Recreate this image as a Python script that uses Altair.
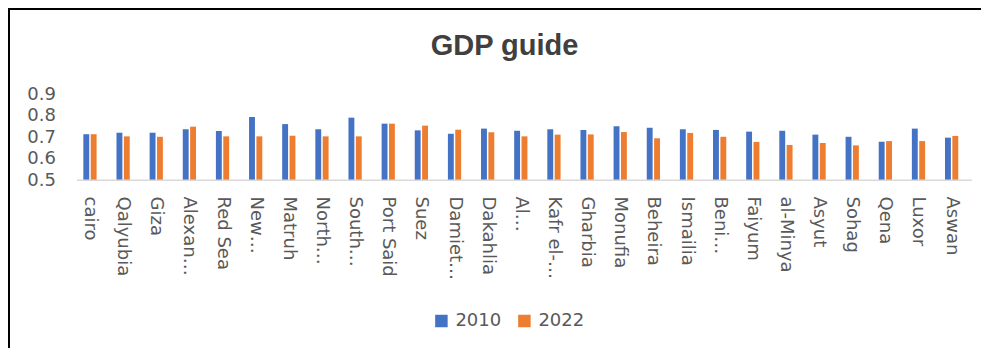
import altair as alt
import pandas as pd

regions = ["cairo", "Qalyubia", "Giza", "Alexan…", "Red Sea", "New…", "Matruh", "North…",
           "South…", "Port Said", "Suez", "Damiet…", "Dakahlia", "Al…", "Kafr el-…", "Gharbia",
           "Monufia", "Beheira", "Ismailia", "Beni…", "Faiyum", "al-Minya", "Asyut", "Sohag",
           "Qena", "Luxor", "Aswan"]
v2010 = [0.713, 0.720, 0.720, 0.736, 0.728, 0.793, 0.760, 0.736, 0.790, 0.762, 0.731, 0.715,
         0.739, 0.729, 0.736, 0.733, 0.750, 0.743, 0.736, 0.733, 0.725, 0.729, 0.711, 0.701,
         0.678, 0.739, 0.697]
v2022 = [0.713, 0.703, 0.701, 0.748, 0.703, 0.703, 0.706, 0.703, 0.703, 0.762, 0.753, 0.734,
         0.722, 0.703, 0.711, 0.712, 0.723, 0.694, 0.719, 0.701, 0.677, 0.663, 0.672, 0.661,
         0.681, 0.681, 0.705]
years = ["2010", "2022"]
colors = ["#4472C4", "#ED7D31"]
y_ticks = [0.5, 0.6, 0.7, 0.8, 0.9]
title_text = "GDP guide"

rows = []
for r, a, b in zip(regions, v2010, v2022):
    rows.append({"region": r, "year": years[0], "value": a})
    rows.append({"region": r, "year": years[1], "value": b})
df = pd.DataFrame(rows)

W, H = 894.8, 86
PL, PT, PR, PB = 65.4, 86, 12.8, 168
TEXT = "#595959"
FONT = "DejaVu Sans"

bars = alt.Chart(df).mark_bar().encode(
    x=alt.X("region:N", sort=regions, title=None,
            scale=alt.Scale(paddingInner=0.6, paddingOuter=0.3),
            axis=alt.Axis(labelAngle=90, labelFontSize=18, labelFont=FONT, labelColor=TEXT,
                          labelPadding=16, ticks=False, domain=False, grid=False,
                          labelLimit=200)),
    xOffset=alt.XOffset("year:N", scale=alt.Scale(paddingInner=0.2)),
    y=alt.Y("value:Q", title=None,
            scale=alt.Scale(domain=[0.5, 0.9], nice=False, zero=False),
            axis=alt.Axis(values=y_ticks, format=".1f", labelFontSize=18, labelFont=FONT,
                          labelColor=TEXT, labelPadding=18, ticks=False, domain=False,
                          grid=False)),
    y2=alt.datum(0.5),
    color=alt.Color("year:N", scale=alt.Scale(domain=years, range=colors),
                    legend=alt.Legend(title=None, orient="none", direction="horizontal",
                                      legendX=359, legendY=218, symbolType="square",
                                      symbolSize=156, symbolStrokeWidth=0,
                                      labelFontSize=18, labelFont=FONT, labelColor=TEXT,
                                      labelOffset=5, columnPadding=14, padding=0)),
)

one = pd.DataFrame({"k": [0]})

baseline = alt.Chart(one).mark_rule(color="#D9D9D9", strokeWidth=1.6).encode(
    x=alt.value(3.6), x2=alt.value(898.6), y=alt.value(H + 0.2))

title = alt.Chart(one).mark_text(text=title_text, font="Liberation Sans", fontWeight="bold",
                                 fontSize=29, color="#404040", align="center",
                                 baseline="alphabetic").encode(
    x=alt.value(431.1), y=alt.value(-39))

border_top = alt.Chart(one).mark_rule(color="#000000", strokeWidth=2).encode(
    x=alt.value(-PL), x2=alt.value(W + PR), y=alt.value(-PT + 1))
border_left = alt.Chart(one).mark_rule(color="#000000", strokeWidth=2).encode(
    x=alt.value(-PL + 1), y=alt.value(-PT), y2=alt.value(H + PB))

chart = alt.layer(bars, baseline, title, border_top, border_left).properties(
    width=W, height=H,
    autosize=alt.AutoSizeParams(type="none"),
    padding={"left": PL, "top": PT, "right": PR, "bottom": PB},
    background="white",
).configure_view(stroke=None)

chart.save("out.html", embed_options={"renderer": "svg", "actions": False})
